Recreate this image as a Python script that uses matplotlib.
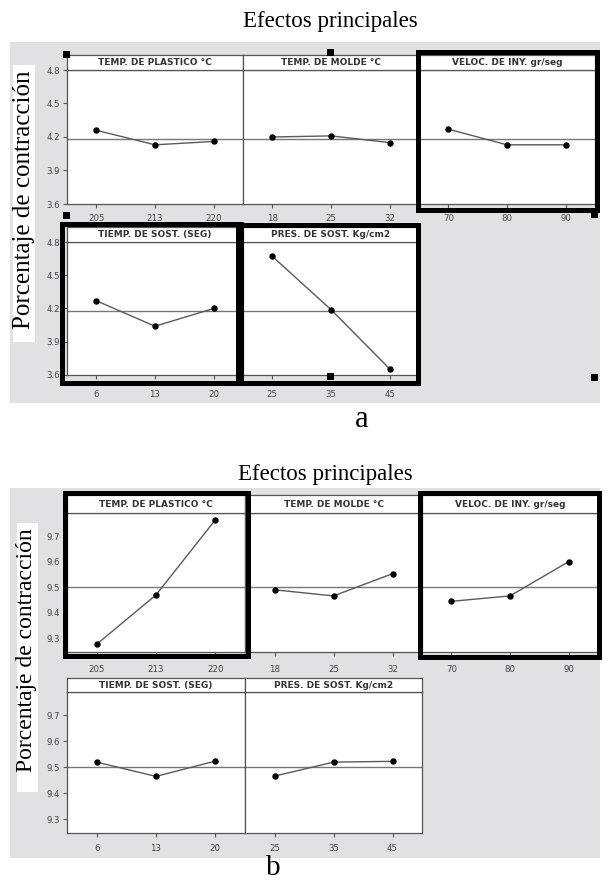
import matplotlib.pyplot as plt
from matplotlib.patches import Rectangle

W, H = 605, 881

factores = ['TEMP. DE PLASTICO °C', 'TEMP. DE MOLDE °C', 'VELOC. DE INY. gr/seg',
            'TIEMP. DE SOST. (SEG)', 'PRES. DE SOST. Kg/cm2']
niveles_plastico = ['205', '213', '220']
niveles_molde = ['18', '25', '32']
niveles_veloc = ['70', '80', '90']
niveles_tiempo = ['6', '13', '20']
niveles_presion = ['25', '35', '45']
niveles = [niveles_plastico, niveles_molde, niveles_veloc, niveles_tiempo, niveles_presion]

# a: medias de porcentaje de contraccion
plastico_a = [4.26, 4.13, 4.16]
molde_a = [4.20, 4.21, 4.15]
veloc_a = [4.27, 4.13, 4.13]
tiempo_a = [4.27, 4.04, 4.20]
presion_a = [4.67, 4.19, 3.655]
media_a = 4.18
yticks_a = [3.6, 3.9, 4.2, 4.5, 4.8]

# b
plastico_b = [9.277, 9.47, 9.763]
molde_b = [9.49, 9.466, 9.553]
veloc_b = [9.445, 9.466, 9.60]
tiempo_b = [9.52, 9.465, 9.524]
presion_b = [9.466, 9.52, 9.523]
media_b = 9.50
yticks_b = [9.3, 9.4, 9.5, 9.6, 9.7]


def px(x0, y0, x1, y1):
    return [x0 / W, 1 - y1 / H, (x1 - x0) / W, (y1 - y0) / H]


def caja(x0, y0, x1, y1, **kw):
    fig.patches.append(Rectangle((x0 / W, 1 - y1 / H), (x1 - x0) / W, (y1 - y0) / H,
                                 transform=fig.transFigure, figure=fig, **kw))


def grafico(series, media, ylim, yticks, cols, filas, pads):
    for i, vals in enumerate(series):
        c, f = i % 3, i // 3
        x0, x1 = cols[c]
        ytop, dtop, dbot = filas[f]
        ax = fig.add_axes(px(x0, dtop, x1, dbot))
        ax.axhline(media, color='#777777', lw=1.0, zorder=1)
        ax.plot(range(3), vals, color='#5a5a5a', lw=1.0, marker='o', ms=3.6,
                mfc='black', mec='black', zorder=3)
        ax.set_xlim(-0.5, 2.5)
        ax.set_ylim(ylim)
        ax.set_xticks(range(3))
        ax.set_xticklabels(niveles[i])
        ax.set_yticks(yticks)
        ax.tick_params(length=3, width=0.8, color='#555555', labelsize=6.2,
                       labelcolor='#444444', pad=2)
        ax.tick_params(axis='x', pad=pads[f])
        if c != 0:
            ax.tick_params(left=False, labelleft=False)
        for s in ax.spines.values():
            s.set_color('#555555')
            s.set_linewidth(0.9)
        st = fig.add_axes(px(x0, ytop, x1, dtop))
        st.set_xticks([])
        st.set_yticks([])
        for s in st.spines.values():
            s.set_color('#555555')
            s.set_linewidth(0.9)
        st.text(0.5, 0.48, factores[i], ha='center', va='center', fontsize=6.5,
                fontweight='bold', color='#333333', transform=st.transAxes)


fig = plt.figure(figsize=(W / 100, H / 100), dpi=100)

# ---- a ----
fig.text(330 / W, 1 - 27 / H, 'Efectos principales', family='Liberation Serif',
         fontsize=16.5, ha='center', va='baseline')
caja(10, 42, 600, 403, facecolor='#e1e1e3', edgecolor='none', zorder=-2)
caja(13, 65, 35, 342, facecolor='white', edgecolor='none', zorder=-1)
fig.text(24 / W, 1 - 200 / H, 'Porcentaje de contracción', family='Liberation Serif',
         fontsize=18, rotation=90, ha='center', va='center')
grafico([plastico_a, molde_a, veloc_a, tiempo_a, presion_a], media_a, (3.6, 4.8), yticks_a,
        [(67, 243), (243, 419), (419, 595)], [(55, 70, 204), (227, 242, 375)], [4.3, 7.5])
# recuadros resaltados
for r in [(418, 52, 597, 210), (62, 224, 241, 383), (238, 225, 418, 383)]:
    caja(*r, facecolor='none', edgecolor='black', lw=3.6, zorder=5)
for cx, cy in [(66, 54), (330, 52), (66, 215), (594, 214), (330, 376), (594, 377)]:
    caja(cx - 3.5, cy - 3.5, cx + 3.5, cy + 3.5, facecolor='black', edgecolor='none', zorder=6)
fig.text(362 / W, 1 - 427 / H, 'a', family='Liberation Serif', fontsize=22,
         ha='center', va='baseline')

# ---- b ----
fig.text(325 / W, 1 - 480 / H, 'Efectos principales', family='Liberation Serif',
         fontsize=16.5, ha='center', va='baseline')
caja(10, 488, 600, 858, facecolor='#e1e1e3', edgecolor='none', zorder=-2)
caja(17, 523, 38, 792, facecolor='white', edgecolor='none', zorder=-1)
fig.text(27 / W, 1 - 650 / H, 'Porcentaje de contracción', family='Liberation Serif',
         fontsize=17, rotation=90, ha='center', va='center')
grafico([plastico_b, molde_b, veloc_b, tiempo_b, presion_b], media_b, (9.247, 9.79), yticks_b,
        [(67, 245), (245, 422), (422, 598)], [(495, 513, 652), (678, 692, 833)], [6.5, 5])
for r in [(65, 493, 248, 656), (420, 493, 599, 657)]:
    caja(*r, facecolor='none', edgecolor='black', lw=3.6, zorder=5)
fig.text(273 / W, 1 - 875 / H, 'b', family='Liberation Serif', fontsize=21,
         ha='center', va='baseline')

fig.savefig('out.png', dpi=100)
